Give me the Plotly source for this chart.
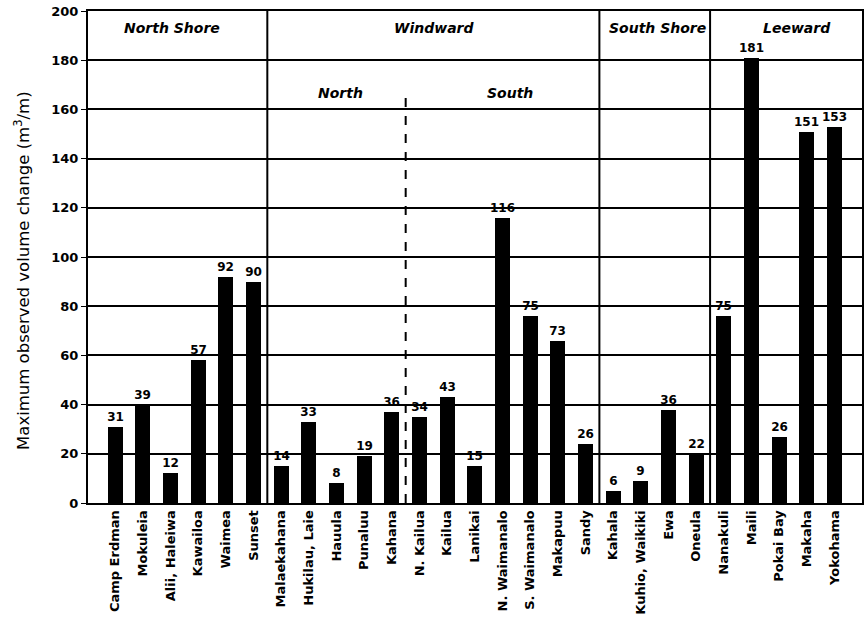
import plotly.graph_objects as go

beaches = ["Camp Erdman", "Mokuleia", "Alii, Haleiwa", "Kawailoa", "Waimea", "Sunset",
           "Malaekahana", "Hukilau, Laie", "Hauula", "Punaluu", "Kahana",
           "N. Kailua", "Kailua", "Lanikai", "N. Waimanalo", "S. Waimanalo", "Makapuu", "Sandy",
           "Kahala", "Kuhio, Waikiki", "Ewa", "Oneula",
           "Nanakuli", "Maili", "Pokai Bay", "Makaha", "Yokohama"]
# bar heights as drawn
heights = [31, 40, 12, 58, 92, 90,
           15, 33, 8, 19, 37,
           35, 43, 15, 116, 76, 66, 24,
           5, 9, 38, 20,
           76, 181, 27, 151, 153]
# values printed above bars
printed = [31, 39, 12, 57, 92, 90,
           14, 33, 8, 19, 36,
           34, 43, 15, 116, 75, 73, 26,
           6, 9, 36, 22,
           75, 181, 26, 151, 153]
y_ticks = [0, 20, 40, 60, 80, 100, 120, 140, 160, 180, 200]

regions = ["North Shore", "Windward", "South Shore", "Leeward"]
region_x = [2.06, 11.53, 19.6, 24.65]
subregions = ["North", "South"]
subregion_x = [8.13, 14.28]
dividers = [5.5, 17.5, 21.5]
dashed_divider = 10.5

BOLD = "DejaVu Sans"
x = list(range(len(beaches)))

fig = go.Figure()
fig.add_trace(go.Bar(
    x=x, y=heights, width=0.54,
    marker=dict(color="black", line=dict(width=0)),
    text=[str(v) for v in printed], textposition="outside", cliponaxis=False,
    constraintext="none", textangle=0,
    textfont=dict(family=BOLD, size=12, color="black", weight="bold"),
))

shapes = []
for d in dividers:
    shapes.append(dict(type="line", xref="x", yref="y", x0=d, x1=d, y0=0, y1=200,
                       line=dict(color="black", width=2)))
shapes.append(dict(type="line", xref="x", yref="y", x0=dashed_divider, x1=dashed_divider,
                   y0=0, y1=165, line=dict(color="black", width=2, dash="dash")))

annotations = []
for name, xv in zip(regions, region_x):
    annotations.append(dict(x=xv, y=193, xref="x", yref="y", text=f"<b><i>{name}</i></b>",
                            showarrow=False,
                            font=dict(family=BOLD, size=14, color="black")))
for name, xv in zip(subregions, subregion_x):
    annotations.append(dict(x=xv, y=166.5, xref="x", yref="y", text=f"<b><i>{name}</i></b>",
                            showarrow=False,
                            font=dict(family=BOLD, size=14, color="black")))
annotations.append(dict(x=-0.0853, y=0.4736, xref="paper", yref="paper",
                        text="Maximum observed volume change (m<sup>3</sup>/m)",
                        textangle=-90, showarrow=False, xanchor="center", yanchor="middle",
                        font=dict(family="DejaVu Sans", size=16.5, color="black")))

fig.update_layout(
    width=865, height=626,
    margin=dict(l=88, r=3, t=11, b=123, autoexpand=False),
    paper_bgcolor="white", plot_bgcolor="white",
    showlegend=False,
    bargap=0,
    shapes=shapes,
    annotations=annotations,
    font=dict(family="Liberation Sans, Arial", color="black"),
)
fig.update_xaxes(
    range=[-0.98, 26.99], automargin=False,
    tickvals=x, ticktext=beaches, tickangle=-90,
    tickfont=dict(family=BOLD, size=13, color="black", weight="bold"),
    showgrid=False, zeroline=False,
    showline=True, linecolor="black", linewidth=2, mirror=True,
    ticks="", ticklen=0,
)
fig.update_yaxes(
    range=[0, 200], tickvals=y_ticks, automargin=False,
    tickfont=dict(family=BOLD, size=13, color="black", weight="bold"),
    showgrid=True, gridcolor="black", gridwidth=2, zeroline=False,
    showline=True, linecolor="black", linewidth=2, mirror=True,
    ticks="outside", ticklen=5, tickcolor="black", tickwidth=1,
)

fig.write_html("out.html", config={"displayModeBar": False},
               post_script="document.body.style.margin='0';")
